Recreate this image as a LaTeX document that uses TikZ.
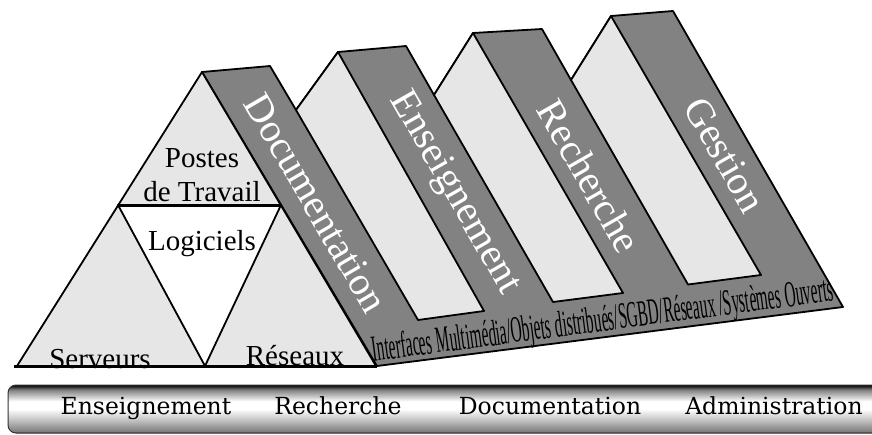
\documentclass[tikz,border=0pt]{standalone}
\usepackage{fontspec}
\setmainfont{Liberation Serif}
\newfontfamily\barfont{DejaVu Serif}
\usepackage{graphicx}
\definecolor{facelight}{HTML}{E6E6E6}
\definecolor{facedark}{HTML}{828282}
\pgfdeclareverticalshading{barshade}{100bp}{color(0bp)=(black!75); color(25bp)=(black!75); color(27bp)=(black!50); color(38bp)=(black!25); color(50bp)=(white); color(58bp)=(white); color(70bp)=(black!50); color(73bp)=(black!80); color(75bp)=(black); color(100bp)=(black)}
\begin{document}
\begin{tikzpicture}[x=1pt,y=-1pt,
  edge/.style={line width=1.8pt, line join=round},
  darkface/.style={edge, fill=facedark, draw=black},
  lightface/.style={edge, fill=facelight, draw=black},
  whiteface/.style={edge, fill=white, draw=black},
  thickline/.style={line width=3pt},
  bandlabel/.style={text=white, font=\fontsize{40}{40}\selectfont, inner sep=0pt},
  frontlabel/.style={font=\fontsize{29}{29}\selectfont, inner sep=0pt, anchor=base},
  barlabel/.style={font=\barfont\fontsize{23.5}{23.5}\selectfont, inner sep=0pt, anchor=base}]
\useasboundingbox (0,0) rectangle (872,434);
% ridge points
\coordinate (A1) at (202,72);  \coordinate (T1) at (270,66);
\coordinate (A2) at (338,52);  \coordinate (T2) at (406,46);
\coordinate (A3) at (473,33);  \coordinate (T3) at (542,29);
\coordinate (A4) at (611,16);  \coordinate (T4) at (673,11);
\coordinate (N2) at (296,110); \coordinate (N3) at (434,95); \coordinate (N4) at (571,80);
\coordinate (P1) at (418,320); \coordinate (P2) at (553,302); \coordinate (P3) at (688,284.5);
\coordinate (Q2) at (484,311); \coordinate (Q3) at (623,293); \coordinate (Q4) at (761,275);
\coordinate (BL) at (377,366); \coordinate (BR) at (843,307);
\coordinate (L0) at (17,366);  \coordinate (R0) at (376,366);
\coordinate (ML) at (118,205); \coordinate (MR) at (281,205); \coordinate (MB) at (205,366);
\coordinate (BaseL) at (14,366);
% dark faces and floor
\draw[darkface] (A1) -- (T1) -- (N2) -- (A2) -- (T2) -- (N3) -- (A3) -- (T3) -- (N4) -- (A4) -- (T4) -- (BR) -- (BL) -- cycle;
% light faces
\draw[lightface] (N2) -- (A2) -- (Q2) -- (P1) -- cycle;
\draw[lightface] (N3) -- (A3) -- (Q3) -- (P2) -- cycle;
\draw[lightface] (N4) -- (A4) -- (Q4) -- (P3) -- cycle;
% front triangle
\draw[lightface] (A1) -- (L0) -- (R0) -- cycle;
\draw[whiteface] (ML) -- (MR) -- (MB) -- cycle;
\draw[thickline] (ML) -- (MR);
% band labels
\node[bandlabel, rotate=-59.7] (docl) at (316,203) {Documentation};
\node[bandlabel, rotate=-60.2] (ensl) at (454,193) {Enseignement};
\node[bandlabel, rotate=-60.2] (recl) at (589,176) {Recherche};
\node[bandlabel, rotate=-60.2] (gesl) at (725,155) {Gestion};
% floor label
\node[rotate=7.5, anchor=base, inner sep=0pt] (floorl) at (604,331) {\resizebox{465pt}{\height}{\fontsize{37}{37}\selectfont Interfaces Multimédia/Objets distribués/SGBD/Réseaux /Systèmes Ouverts}};
% front labels
\node[frontlabel] (postes) at (202,167) {Postes};
\node[frontlabel] (travail) at (202,201) {de Travail};
\node[frontlabel] (logic) at (202,250) {Logiciels};
\node[frontlabel] (serv) at (100,368) {Serveurs};
\node[frontlabel] (res) at (295,365) {Réseaux};
\draw[thickline] (BaseL) -- (BL);
% bottom bar
\shade[shading=barshade, rounded corners=8pt] (8,385) rectangle (890,433);
\draw[black!80, line width=1pt, rounded corners=8pt] (8,385) rectangle (890,433);
\node[barlabel] (b1) at (146,414) {Enseignement};
\node[barlabel] (b2) at (338,414) {Recherche};
\node[barlabel] (b3) at (550,414) {Documentation};
\node[barlabel] (b4) at (774,414) {Administration};
\end{tikzpicture}
\end{document}
